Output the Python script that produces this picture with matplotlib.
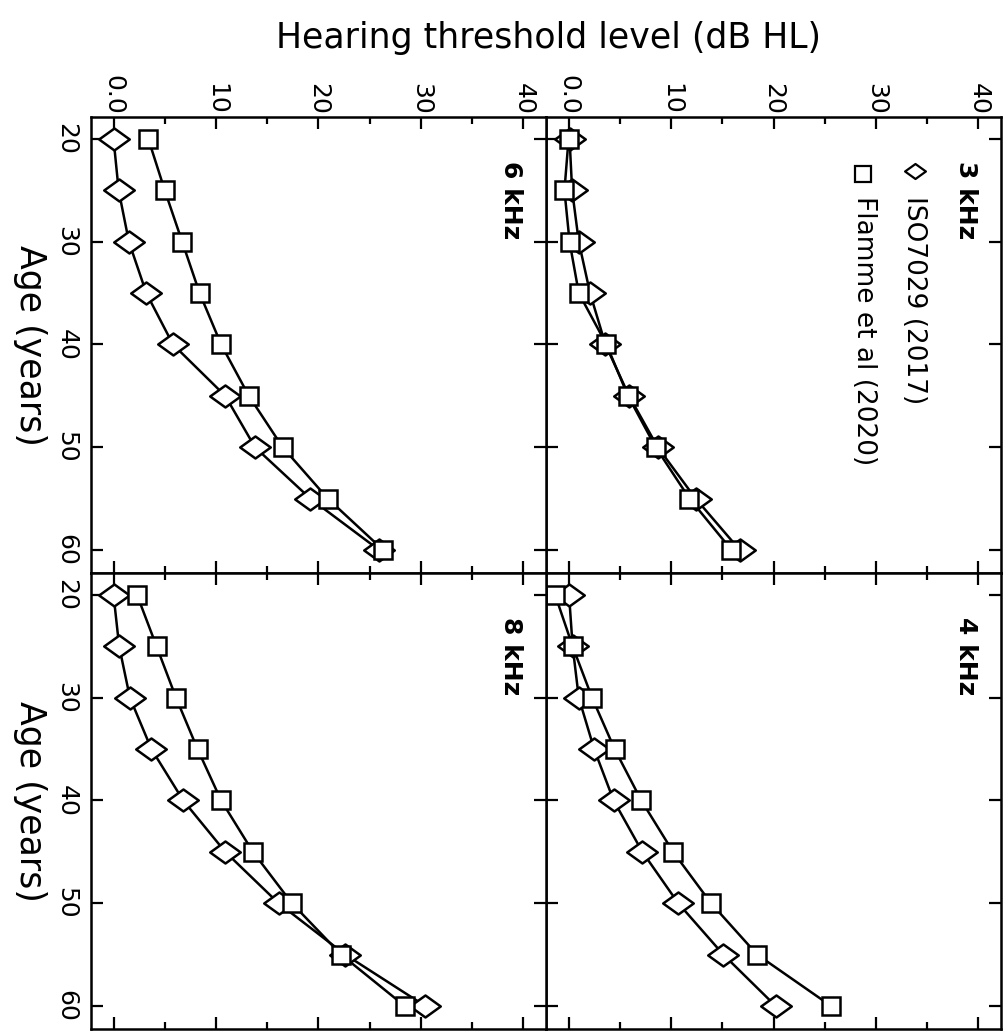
import matplotlib
matplotlib.use("Agg")
import matplotlib.pyplot as plt
from matplotlib.path import Path
from matplotlib.ticker import MultipleLocator, FuncFormatter

# hearing thresholds (dB HL) by age
ages = [20, 25, 30, 35, 40, 45, 50, 55, 60]
iso_3k = [0.1, 0.35, 1.0, 2.1, 3.6, 5.9, 8.7, 12.4, 16.7]
flamme_3k = [0.0, -0.4, 0.1, 1.0, 3.7, 5.8, 8.5, 11.8, 15.9]
iso_4k = [0.05, 0.4, 1.0, 2.5, 4.4, 7.2, 10.7, 15.1, 20.2]
flamme_4k = [-1.3, 0.4, 2.3, 4.5, 7.1, 10.2, 13.9, 18.4, 25.6]
iso_6k = [0.0, 0.5, 1.5, 3.2, 5.8, 10.9, 13.8, 19.2, 25.9]
flamme_6k = [3.4, 5.0, 6.7, 8.4, 10.5, 13.2, 16.5, 20.9, 26.3]
iso_8k = [0.0, 0.55, 1.6, 3.7, 6.8, 10.9, 16.1, 22.6, 30.4]
flamme_8k = [2.3, 4.2, 6.1, 8.2, 10.5, 13.6, 17.4, 22.2, 28.4]

panel_names = ["3 kHz", "4 kHz", "6 kHz", "8 kHz"]
series_names = ["ISO7029 (2017)", "Flamme et al (2020)"]

# wide diamond (the figure is turned on its side)
diamond = Path([(-1, 0), (0, 0.72), (1, 0), (0, -0.72), (-1, 0)],
               [Path.MOVETO, Path.LINETO, Path.LINETO, Path.LINETO, Path.CLOSEPOLY])

W, H = 1005, 1036
fig = plt.figure(figsize=(W / 100, H / 100), dpi=100)

pw, ph = 455 / W, 456 / H
left_x, right_x = 91 / W, 546 / W
top_y, bot_y = 1 - 573 / H, 1 - 1029 / H

# (position, data, show dB labels, show age labels)
panels = [
    ((right_x, top_y), iso_3k, flamme_3k, panel_names[0], True, False),
    ((right_x, bot_y), iso_4k, flamme_4k, panel_names[1], False, False),
    ((left_x, top_y), iso_6k, flamme_6k, panel_names[2], True, True),
    ((left_x, bot_y), iso_8k, flamme_8k, panel_names[3], False, True),
]

lw = 1.8
for (x0, y0), iso, fl, name, lab_top, lab_left in panels:
    ax = fig.add_axes([x0, y0, pw, ph])
    ax.plot(iso, ages, color="black", lw=lw, marker=diamond, ms=22,
            mfc="white", mec="black", mew=lw)
    ax.plot(fl, ages, color="black", lw=lw, marker="s", ms=13,
            mfc="white", mec="black", mew=lw)
    ax.set_xlim(-2.2, 42.2)
    ax.set_ylim(62.25, 17.85)
    ax.xaxis.set_major_locator(MultipleLocator(10))
    ax.xaxis.set_minor_locator(MultipleLocator(5))
    ax.yaxis.set_major_locator(MultipleLocator(10))
    ax.xaxis.set_major_formatter(FuncFormatter(lambda v, p: "0.0" if v == 0 else f"{v:.0f}"))
    ax.tick_params(which="both", direction="in", top=True, bottom=True,
                   left=True, right=True, width=1.6)
    ax.tick_params(which="major", length=8.5)
    ax.tick_params(which="minor", length=5)
    ax.tick_params(axis="x", labeltop=lab_top, labelbottom=False,
                   labelrotation=-90, labelsize=18, pad=1.5)
    ax.tick_params(axis="y", labelleft=lab_left, labelright=False,
                   labelrotation=-90, labelsize=18, pad=9)
    for t in ax.get_yticklabels():
        t.set_va("center")
    for s in ax.spines.values():
        s.set_linewidth(1.8)
    ax.text(0.923, 0.903, name, transform=ax.transAxes, rotation=-90,
            ha="center", va="top", fontsize=18, fontweight="bold")

    if name == "3 kHz":
        ax.plot([0.811], [0.881], transform=ax.transAxes, marker=diamond, ms=15,
                mfc="white", mec="black", mew=1.6, clip_on=False)
        ax.plot([0.697], [0.876], transform=ax.transAxes, marker="s", ms=11,
                mfc="white", mec="black", mew=1.6, clip_on=False)
        ax.text(0.808, 0.826, series_names[0], transform=ax.transAxes, rotation=-90,
                ha="center", va="top", fontsize=19)
        ax.text(0.699, 0.826, series_names[1], transform=ax.transAxes, rotation=-90,
                ha="center", va="top", fontsize=19)

fig.text(549 / W, 1 - 48 / H, "Hearing threshold level (dB HL)", ha="center",
         va="baseline", fontsize=25)
fig.text(30 / W, 1 - 345 / H, "Age (years)", rotation=-90, ha="center",
         va="center", fontsize=25)
fig.text(30 / W, 1 - 801 / H, "Age (years)", rotation=-90, ha="center",
         va="center", fontsize=25)

fig.savefig("out.png", dpi=100)
